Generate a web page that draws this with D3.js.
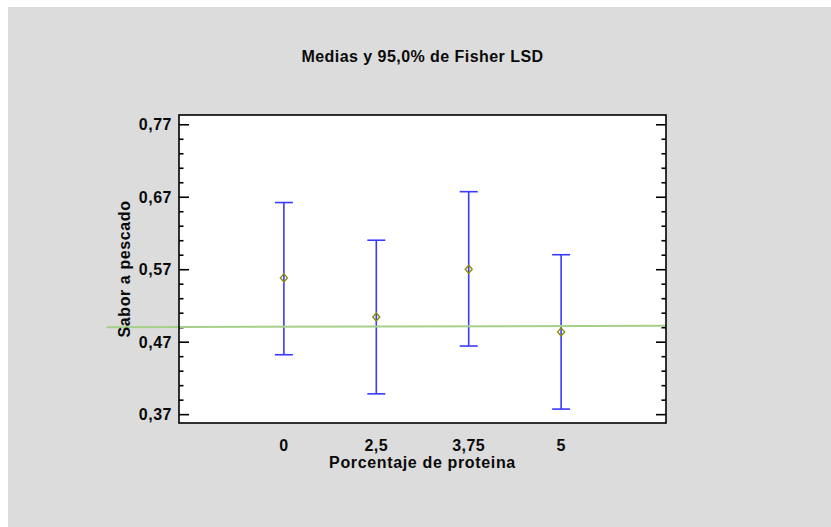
<!DOCTYPE html>
<html>
<head>
<meta charset="utf-8">
<script src="https://cdn.jsdelivr.net/npm/d3@7/dist/d3.min.js"></script>
<style>
  html, body { margin: 0; padding: 0; background: #ffffff; }
  svg { display: block; }
  text { font-family: Arial, "Liberation Sans", sans-serif; font-weight: bold; fill: #0a0a0a; }
</style>
</head>
<body>
<svg id="chart" width="831" height="527"></svg>
<script>
// Group levels (protein percentage) and the Fisher LSD intervals per group
const categories = ["0", "2,5", "3,75", "5"];
const means      = [0.558, 0.504, 0.570, 0.4835];
const lower      = [0.452, 0.398, 0.464, 0.377];
const upper      = [0.662, 0.610, 0.677, 0.590];

// Y axis ticks
const yMajorTicks = [0.37, 0.47, 0.57, 0.67, 0.77];
const yMinorTicks = [0.39, 0.41, 0.43, 0.45, 0.49, 0.51, 0.53, 0.55,
                     0.59, 0.61, 0.63, 0.65, 0.69, 0.71, 0.73, 0.75];

// Horizontal reference line (x in category-index units, y in response units)
const refLineX = [-0.92, 5.135];
const refLineY = [0.490, 0.492];

const title  = "Medias y 95,0% de Fisher LSD";
const xTitle = "Porcentaje de proteina";
const yTitle = "Sabor a pescado";

const W = 831, H = 527;
const plot = { left: 179, top: 115, right: 666, bottom: 423 };

const svg = d3.select("#chart");

// Gray panel
svg.append("rect")
  .attr("x", 8).attr("y", 7)
  .attr("width", W - 8).attr("height", H - 7)
  .attr("fill", "#dcdcdc");

// Scales: categories sit at index 1..4 on a linear axis
const x = d3.scaleLinear().domain([-0.135, 5.135]).range([plot.left, plot.right]);
const y = d3.scaleLinear().domain([0.3578, 0.7828]).range([plot.bottom, plot.top]);
const xi = i => x(i + 1);

// Plot area
svg.append("rect")
  .attr("x", plot.left).attr("y", plot.top)
  .attr("width", plot.right - plot.left).attr("height", plot.bottom - plot.top)
  .attr("fill", "#ffffff");

// Inward ticks on left and right using d3 axes
function yAxisTicks(axisGen, tx, values, size) {
  const g = svg.append("g")
    .attr("transform", `translate(${tx},0)`)
    .call(axisGen(y).tickValues(values).tickSize(size).tickFormat(""));
  g.select(".domain").remove();
  g.selectAll("line").attr("stroke", "#000").attr("stroke-width", 1.6);
  return g;
}
yAxisTicks(d3.axisRight, plot.left, yMajorTicks, 10);
yAxisTicks(d3.axisRight, plot.left, yMinorTicks, 4.5);
yAxisTicks(d3.axisLeft, plot.right, yMajorTicks, 10);
yAxisTicks(d3.axisLeft, plot.right, yMinorTicks, 4.5);

// Y tick labels
svg.append("g").selectAll("text")
  .data(yMajorTicks).join("text")
  .attr("x", plot.left - 7)
  .attr("y", d => y(d))
  .attr("dy", "0.37em")
  .attr("text-anchor", "end")
  .style("font-size", "16px")
  .style("letter-spacing", "0.5px")
  .text(d => d.toFixed(2).replace(".", ","));

// X tick labels
svg.append("g").selectAll("text")
  .data(categories).join("text")
  .attr("x", (d, i) => xi(i))
  .attr("y", 451)
  .attr("text-anchor", "middle")
  .style("font-size", "16px")
  .style("letter-spacing", "0.5px")
  .text(d => d);

// Error bars
const bars = svg.append("g");
categories.forEach((c, i) => {
  const cx = xi(i);
  bars.append("line")
    .attr("x1", cx).attr("x2", cx)
    .attr("y1", y(lower[i])).attr("y2", y(upper[i]))
    .attr("stroke", "#3a3aff").attr("stroke-width", 1.6);
  [lower[i], upper[i]].forEach(v => {
    bars.append("line")
      .attr("x1", cx - 9).attr("x2", cx + 9)
      .attr("y1", y(v)).attr("y2", y(v))
      .attr("stroke", "#3a3aff").attr("stroke-width", 1.6);
  });
});

// Reference line
svg.append("line")
  .attr("x1", x(refLineX[0])).attr("x2", x(refLineX[1]))
  .attr("y1", y(refLineY[0])).attr("y2", y(refLineY[1]))
  .attr("stroke", "#a6d08a").attr("stroke-width", 2);

// Mean markers (small diamonds)
svg.append("g").selectAll("path")
  .data(means).join("path")
  .attr("d", (d, i) => {
    const cx = xi(i), cy = y(d);
    return `M${cx},${cy - 4} L${cx + 3.5},${cy} L${cx},${cy + 4} L${cx - 3.5},${cy} Z`;
  })
  .attr("fill", "none")
  .attr("stroke", "#8c8c00")
  .attr("stroke-width", 1.4);

// Frame
svg.append("rect")
  .attr("x", plot.left).attr("y", plot.top)
  .attr("width", plot.right - plot.left).attr("height", plot.bottom - plot.top)
  .attr("fill", "none").attr("stroke", "#000").attr("stroke-width", 1.6);

// Titles
svg.append("text")
  .attr("x", (plot.left + plot.right) / 2).attr("y", 62)
  .attr("text-anchor", "middle")
  .style("font-size", "16px")
  .style("letter-spacing", "0.45px")
  .text(title);

svg.append("text")
  .attr("x", (plot.left + plot.right) / 2).attr("y", 468)
  .attr("text-anchor", "middle")
  .style("font-size", "16px")
  .style("letter-spacing", "0.65px")
  .text(xTitle);

svg.append("text")
  .attr("transform", `translate(130,${(plot.top + plot.bottom) / 2}) rotate(-90)`)
  .attr("text-anchor", "middle")
  .style("font-size", "16px")
  .style("letter-spacing", "0.6px")
  .text(yTitle);
</script>
</body>
</html>
